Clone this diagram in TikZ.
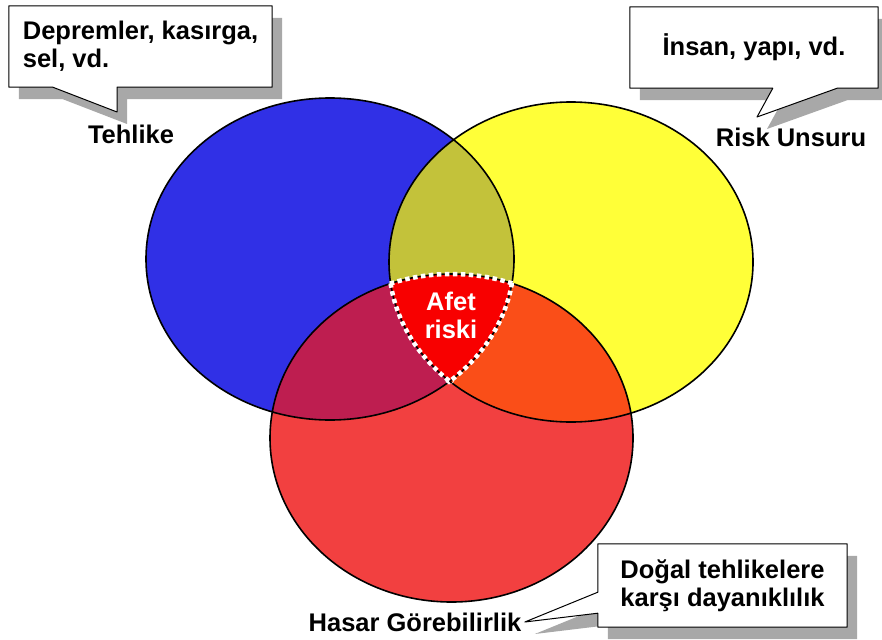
\documentclass[tikz,border=0pt]{standalone}
\usepackage{fontspec}
\setmainfont{Liberation Sans}
\usetikzlibrary{positioning}
\pgfdeclarelayer{back}
\pgfsetlayers{back,main}
\definecolor{hazard}{HTML}{3030E6}
\definecolor{element}{HTML}{FFFF38}
\definecolor{vulner}{HTML}{F24040}
\definecolor{hazelem}{HTML}{C3C23A}
\definecolor{hazvul}{HTML}{BE1E50}
\definecolor{elemvul}{HTML}{FA4E18}
\definecolor{riskcore}{HTML}{F80000}
\definecolor{shade}{HTML}{A8A8A8}
% the three sets, #1 widens the ellipse
\newcommand{\tehlikeP}[1]{(330,259) ellipse [x radius=184+#1,y radius=161+#1]}
\newcommand{\unsurP}[1]{(571,262) ellipse [x radius=182+#1,y radius=160+#1]}
\newcommand{\hasarP}[1]{(451.5,438) ellipse [x radius=181.5+#1,y radius=164+#1]}

\begin{document}
\begin{tikzpicture}[x=1pt,y=-1pt,
  lbl/.style={font=\fontsize{25.5}{28}\selectfont\bfseries},
  note/.style={lbl,align=left,inner sep=0pt},
  bubble/.style={draw=black,line width=1pt,line join=round,fill=white,
    preaction={fill=shade,transform canvas={xshift=10pt,yshift=-12pt}}},
  rim/.style={draw=black,line width=1.6pt},
  dots/.style={draw=white,line width=4.5pt,dash pattern=on 4.5pt off 3.5pt}]
\useasboundingbox (0,0) rectangle (882,639);

% sets and overlaps
\fill[hazard] \tehlikeP{0};
\fill[element] \unsurP{0};
\fill[vulner] \hasarP{0};
\begin{scope}
  \clip \tehlikeP{0};
  \fill[hazelem] \unsurP{0};
  \fill[hazvul] \hasarP{0};
\end{scope}
\begin{scope}
  \clip \unsurP{0};
  \fill[elemvul] \hasarP{0};
\end{scope}
\begin{scope}
  \clip \tehlikeP{0}; \clip \unsurP{0};
  \fill[riskcore] \hasarP{0};
\end{scope}
\draw[rim] \tehlikeP{0} \unsurP{0} \hasarP{0};

% white dotted rim of the core
\begin{scope}
  \clip \tehlikeP{3}; \clip \unsurP{3};
  \draw[dots] \hasarP{0};
\end{scope}
\begin{scope}
  \clip \tehlikeP{3}; \clip \hasarP{3};
  \draw[dots] \unsurP{0};
\end{scope}
\begin{scope}
  \clip \unsurP{3}; \clip \hasarP{3};
  \draw[dots] \tehlikeP{0};
\end{scope}

\node[lbl,white,align=center] (afet) at (451,315) {Afet\\riski};
\node[lbl] (tehlike) at (131,134) {Tehlike};
\node[lbl] (risk) at (791,137) {Risk Unsuru};
\node[lbl] (hasar) at (415,622) {Hasar Görebilirlik};

% callouts
\node[note,minimum width=263,minimum height=81] (dep) at (140.5,46.5) {Depremler, kasırga,\\sel, vd.};
\node[note,minimum width=248,minimum height=81] (ins) at (754,47.5) {İnsan, yapı, vd.};
\node[note,align=center,minimum width=249,minimum height=83] (dog) at (722.5,585.5) {Doğal tehlikelere\\karşı dayanıklılık};
\coordinate (dep tip) at (117,112);
\coordinate (ins tip) at (757,117);
\begin{pgfonlayer}{back}
\draw[bubble] (dep.north west) -- (dep.north east) -- (dep.south east)
  -- (dep.south east -| dep tip) -- (dep tip) -- ([xshift=44pt]dep.south west) -- (dep.south west) -- cycle;
\draw[bubble] (ins.north west) -- (ins.north east) -- (ins.south east)
  -- ([xshift=-41pt]ins.south east) -- (ins tip) -- ([xshift=143pt]ins.south west) -- (ins.south west) -- cycle;
\draw[bubble] (dog.north west) -- (dog.north east) -- (dog.south east) -- (dog.south west)
  -- ([yshift=14pt]dog.south west) -- (hasar.east) -- ([yshift=35pt]dog.south west) -- cycle;
\end{pgfonlayer}
\end{tikzpicture}
\end{document}
